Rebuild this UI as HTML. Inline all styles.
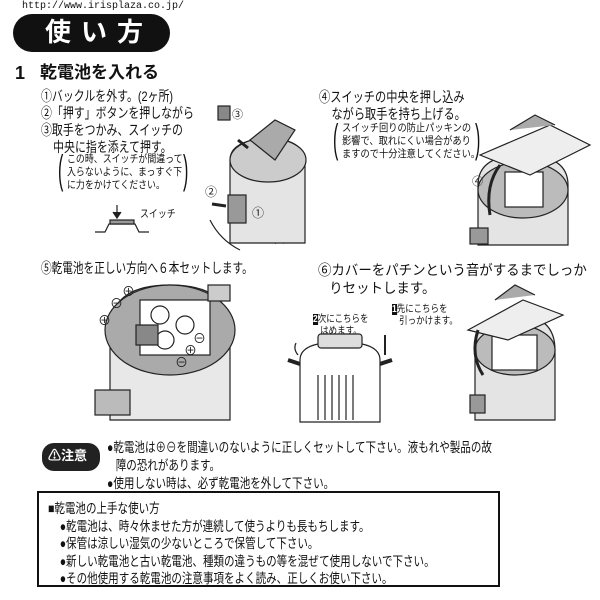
<!DOCTYPE html>
<html><head><meta charset="utf-8"><style>
body{margin:0;width:600px;height:600px;background:#fff;position:relative;overflow:hidden;font-family:"Liberation Sans","Noto Sans CJK JP",sans-serif;color:#111}
.t{position:absolute;white-space:nowrap;line-height:1;transform-origin:left top}
svg{position:absolute;left:0;top:0}
</style></head><body>
<div class="t" style="left:22px;top:2px;font-family:'Liberation Mono',monospace;font-size:10px">http://www.irisplaza.co.jp/</div>
<div style="position:absolute;left:13px;top:14px;width:157px;height:38px;background:#111;border-radius:19px"></div>
<div class="t" style="left:45px;top:19px;font-size:26px;font-weight:bold;color:#fff;letter-spacing:10px">使い方</div>
<div class="t" style="left:15px;top:64px;font-size:18px;font-weight:bold">1</div>
<div class="t" style="left:40px;top:64px;font-size:17px;font-weight:bold">乾電池を入れる</div>
<div class="t" style="left:41px;top:88px;font-size:14px;line-height:17px;transform:scaleX(.78)">①バックルを外す。(2ヶ所)<br>②「押す」ボタンを押しながら<br>③取手をつかみ、スイッチの<br>&nbsp;&nbsp;&nbsp;&nbsp;中央に指を添えて押す。</div>
<div class="t" style="left:67px;top:153px;font-size:10.5px;line-height:13px;transform:scaleX(.85)">この時、スイッチが間違って<br>入らないように、まっすぐ下<br>に力をかけてください。</div>
<div class="t" style="left:58px;top:150px;font-size:40px;transform:scaleX(.4)">(</div>
<div class="t" style="left:183px;top:150px;font-size:40px;transform:scaleX(.4)">)</div>
<div class="t" style="left:140px;top:209px;font-size:10.5px;transform:scaleX(.85)">スイッチ</div>
<div class="t" style="left:263px;top:235px;font-size:10.5px;transform:scaleX(.85)">バックル</div>
<div class="t" style="left:319px;top:89px;font-size:14px;line-height:17px;transform:scaleX(.8)">④スイッチの中央を押し込み<br>&nbsp;&nbsp;&nbsp;&nbsp;ながら取手を持ち上げる。</div>
<div class="t" style="left:342px;top:122px;font-size:10.5px;line-height:13px;transform:scaleX(.88)">スイッチ回りの防止パッキンの<br>影響で、取れにくい場合があり<br>ますので十分注意してください。</div>
<div class="t" style="left:333px;top:119px;font-size:40px;transform:scaleX(.4)">(</div>
<div class="t" style="left:475px;top:119px;font-size:40px;transform:scaleX(.4)">)</div>
<div class="t" style="left:41px;top:261px;font-size:14px;transform:scaleX(.76)">⑤乾電池を正しい方向へ６本セットします。</div>
<div class="t" style="left:318px;top:261px;font-size:14px;line-height:18px;transform:scaleX(.96)">⑥カバーをパチンという音がするまでしっか<br>&nbsp;&nbsp;&nbsp;りセットします。</div>
<div class="t" style="left:313px;top:314px;font-size:10px;line-height:12px;transform:scaleX(.85)"><span style="background:#111;color:#fff;font-weight:bold">2</span>次にこちらを<br>&nbsp;&nbsp;&nbsp;はめます。</div>
<div class="t" style="left:392px;top:304px;font-size:10px;line-height:12px;transform:scaleX(.85)"><span style="background:#111;color:#fff;font-weight:bold">1</span>先にこちらを<br>&nbsp;&nbsp;&nbsp;引っかけます。</div>
<div style="position:absolute;left:42px;top:443px;width:58px;height:28px;background:#222;border-radius:12px"></div>
<div class="t" style="left:48px;top:449px;font-size:13px;font-weight:bold;color:#fff">⚠注意</div>
<div class="t" style="left:107px;top:439px;font-size:13.5px;line-height:18px;transform:scaleX(.78)">●乾電池は⊕⊖を間違いのないように正しくセットして下さい。液もれや製品の故<br>&nbsp;&nbsp;&nbsp;障の恐れがあります。<br>●使用しない時は、必ず乾電池を外して下さい。</div>
<div style="position:absolute;left:37px;top:491px;width:459px;height:92px;border:2px solid #111"></div>
<div class="t" style="left:48px;top:500px;font-size:13.5px;line-height:17.5px;transform:scaleX(.78)">■乾電池の上手な使い方<br>&nbsp;&nbsp;&nbsp;&nbsp;●乾電池は、時々休ませた方が連続して使うよりも長もちします。<br>&nbsp;&nbsp;&nbsp;&nbsp;●保管は涼しい湿気の少ないところで保管して下さい。<br>&nbsp;&nbsp;&nbsp;&nbsp;●新しい乾電池と古い乾電池、種類の違うもの等を混ぜて使用しないで下さい。<br>&nbsp;&nbsp;&nbsp;&nbsp;●その他使用する乾電池の注意事項をよく読み、正しくお使い下さい。</div>
<svg width="600" height="600" fill="none" stroke="#222" stroke-width="1.2">
<path d="M95 232h10l4-8h26l4 8h10"/><rect x="110" y="220" width="24" height="4" fill="#999"/><path d="M117 205v12M113 212l4 6 4-6" fill="#222"/>
<path d="M230 160q0-20 40-22q35 2 35 25v80h-75z" fill="#e4e4e4"/>
<ellipse cx="268" cy="160" rx="38" ry="22" fill="#ccc"/>
<path d="M250 140l25-20 20 10-20 30z" fill="#aaa"/>
<rect x="228" y="195" width="18" height="28" fill="#999"/>
<path d="M210 220q10 20 30 30" /><text x="232" y="118" font-size="11" fill="#222" stroke="none">③</text>
<rect x="218" y="106" width="12" height="14" fill="#888"/>
<text x="205" y="196" font-size="12" fill="#222" stroke="none">②</text><text x="252" y="217" font-size="12" fill="#222" stroke="none">①</text>
<path d="M212 204l14 2" stroke-width="3"/><path d="M238 140l10 8" stroke-width="3"/>
<path d="M478 185q0-30 45-30q45 0 45 30v60h-90z" fill="#e4e4e4"/>
<ellipse cx="523" cy="190" rx="45" ry="28" fill="#bbb"/>
<rect x="505" y="172" width="38" height="35" fill="#fff"/>
<path d="M480 155l70-30 40 20-60 30z" fill="#eee"/>
<path d="M510 130l25-15 20 10" fill="#aaa"/>
<path d="M490 215q-5-30 10-50" stroke-width="3"/><text x="472" y="185" font-size="11" fill="#222" stroke="none">④</text>
<rect x="470" y="228" width="18" height="16" fill="#999"/>
<path d="M110 330q0-45 60-45q60 0 60 45v90h-120z" fill="#e8e8e8"/>
<ellipse cx="170" cy="330" rx="65" ry="45" fill="#aaa"/>
<rect x="140" y="300" width="70" height="55" fill="#fff"/>
<circle cx="160" cy="315" r="9" fill="#fff"/><circle cx="185" cy="325" r="9" fill="#fff"/><circle cx="165" cy="340" r="9" fill="#fff"/>
<rect x="136" y="325" width="22" height="20" fill="#888"/>
<rect x="95" y="390" width="35" height="25" fill="#bbb"/><rect x="208" y="285" width="22" height="16" fill="#ccc"/>
<text x="98" y="325" font-size="13" fill="#222" stroke="none">⊕</text><text x="110" y="308" font-size="13" fill="#222" stroke="none">⊖</text><text x="122" y="296" font-size="13" fill="#222" stroke="none">⊕</text>
<text x="193" y="343" font-size="13" fill="#222" stroke="none">⊖</text><text x="184" y="355" font-size="13" fill="#222" stroke="none">⊕</text><text x="175" y="367" font-size="13" fill="#222" stroke="none">⊖</text>
<path d="M300 360q0-18 40-18q40 0 40 18v62h-80z" fill="#fff"/>
<rect x="318" y="334" width="44" height="14" rx="3" fill="#ddd"/>
<path d="M318 375v45M325 375v45M332 375v45M339 375v45M346 375v45M353 375v45"/>
<path d="M288 360l12 4M380 364l12-4" stroke-width="4"/>
<path d="M385 335v20" stroke-width="2"/><path d="M296 343q-3 6 2 12"/>
<path d="M475 350q0-35 40-35q40 0 40 35v70h-80z" fill="#e4e4e4"/>
<ellipse cx="515" cy="350" rx="40" ry="25" fill="#bbb"/>
<rect x="492" y="335" width="45" height="35" fill="#fff"/>
<path d="M468 330l55-30 40 15-55 25z" fill="#eee"/>
<path d="M495 300l20-15 20 10" fill="#aaa"/>
<path d="M478 330q-8 25 5 45" stroke-width="3"/>
<rect x="470" y="395" width="15" height="18" fill="#999"/>
</svg>
</body></html>
